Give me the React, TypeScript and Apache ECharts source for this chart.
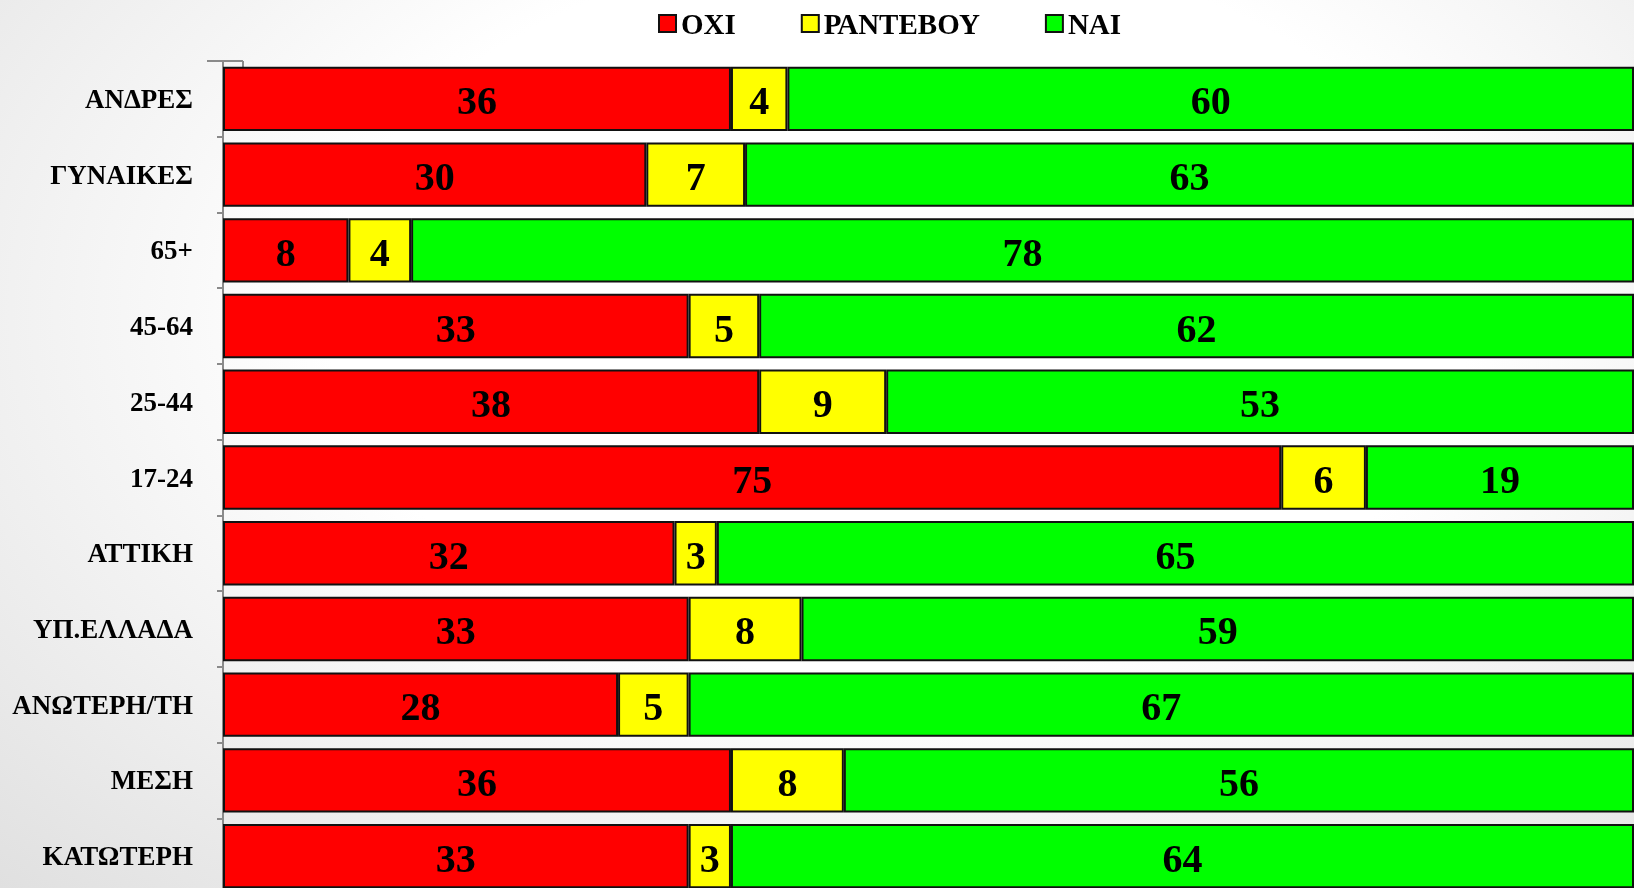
import React, { useEffect, useRef } from "react";
import * as echarts from "echarts";

const categories = ["ΑΝΔΡΕΣ", "ΓΥΝΑΙΚΕΣ", "65+", "45-64", "25-44", "17-24", "ΑΤΤΙΚΗ", "ΥΠ.ΕΛΛΑΔΑ", "ΑΝΩΤΕΡΗ/ΤΗ", "ΜΕΣΗ", "ΚΑΤΩΤΕΡΗ"];
const oxi = [36, 30, 8, 33, 38, 75, 32, 33, 28, 36, 33];
const rantevou = [4, 7, 4, 5, 9, 6, 3, 8, 5, 8, 3];
const nai = [60, 63, 78, 62, 53, 19, 65, 59, 67, 56, 64];
const seriesNames = ["ΟΧΙ", "ΡΑΝΤΕΒΟΥ", "ΝΑΙ"];
const seriesColors = ["#ff0000", "#ffff00", "#00ff00"];

const FONT = "'Liberation Serif', 'DejaVu Serif', serif";

export default function App() {
  const ref = useRef<HTMLDivElement>(null);
  useEffect(() => {
    if (!ref.current) return;
    const chart = echarts.init(ref.current, null, { renderer: "svg" });
    const raw = [oxi, rantevou, nai];
    const totals = categories.map((_, i) => oxi[i] + rantevou[i] + nai[i]);
    const series = raw.map((arr, si) => ({
      name: seriesNames[si],
      type: "bar",
      stack: "total",
      barCategoryGap: "15%",
      data: arr.map((v, i) => (v / totals[i]) * 100),
      itemStyle: { color: seriesColors[si], borderColor: "#111", borderWidth: 2 },
      label: {
        show: true,
        position: "inside",
        offset: [0, 2],
        color: "#000",
        fontFamily: FONT,
        fontWeight: "bold",
        fontSize: 40,
        formatter: (p: any) => String(arr[p.dataIndex]),
      },
    }));
    chart.setOption({
      animation: false,
      backgroundColor: "transparent",
      legend: {
        left: 653,
        top: 4,
        itemWidth: 17,
        itemHeight: 17,
        itemGap: 65,
        icon: "rect",
        textStyle: { fontFamily: FONT, fontWeight: "bold", fontSize: 29, color: "#000" },
        data: seriesNames,
      },
      grid: { left: 223, right: 0, top: 61, height: 833 },
      xAxis: { type: "value", min: 0, max: 100, show: false },
      yAxis: {
        type: "category",
        inverse: true,
        data: categories,
        offset: 10,
        axisLine: { show: true, lineStyle: { color: "#8a8a8a", width: 2 } },
        axisTick: { show: true, length: 6, lineStyle: { color: "#8a8a8a", width: 2 } },
        axisLabel: {
          margin: 20,
          color: "#000",
          fontFamily: FONT,
          fontWeight: "bold",
          fontSize: 27,
          padding: [4, 0, 0, 0],
        },
      },
      graphic: [
        { type: "line", shape: { x1: 207, y1: 61, x2: 243, y2: 61 }, style: { stroke: "#8a8a8a", lineWidth: 2 } },
        { type: "line", shape: { x1: 243, y1: 61, x2: 243, y2: 67 }, style: { stroke: "#8a8a8a", lineWidth: 2 } },
      ],
      series,
    });
    return () => chart.dispose();
  }, []);
  return (
    <div
      style={{
        position: "fixed",
        left: 0,
        top: 0,
        width: 1634,
        height: 888,
        overflow: "hidden",
        background: "radial-gradient(ellipse at 55% 35%, #ffffff 45%, #e0e0e0 100%)",
      }}
    >
      <div ref={ref} style={{ width: 1634, height: 900 }} />
    </div>
  );
}
